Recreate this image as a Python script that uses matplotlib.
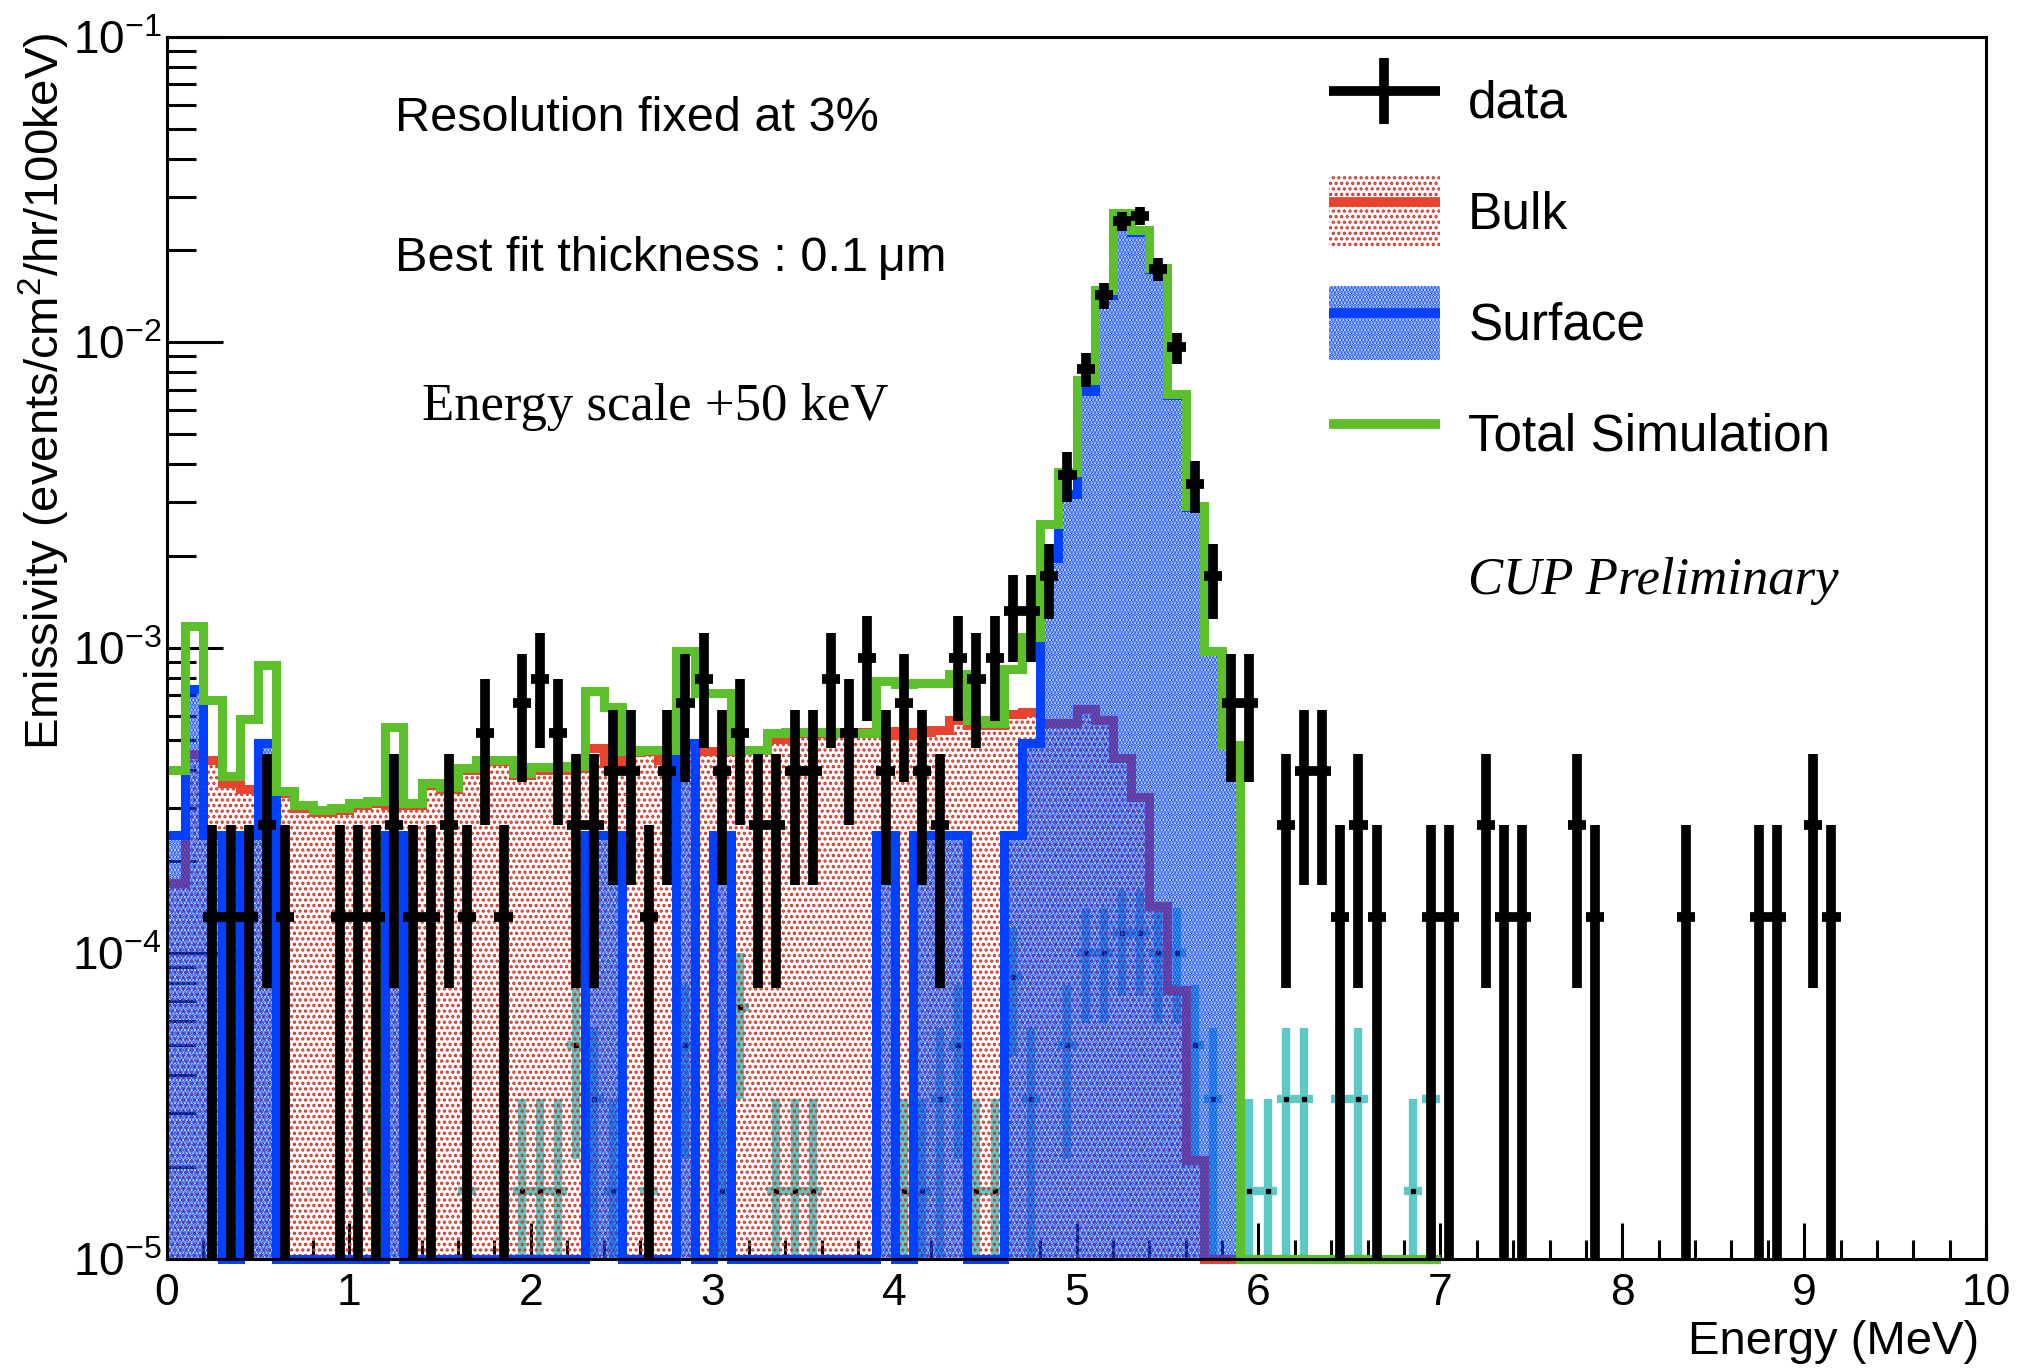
import numpy as np
import matplotlib
matplotlib.use('Agg')
import matplotlib.pyplot as plt
from matplotlib.patches import Patch
from matplotlib.lines import Line2D
from matplotlib.legend_handler import HandlerTuple
from matplotlib.ticker import LogLocator, MultipleLocator, NullFormatter

plt.rcParams['font.family'] = ['Liberation Sans', 'DejaVu Sans']
plt.rcParams['mathtext.fontset'] = 'custom'
plt.rcParams['mathtext.rm'] = 'Liberation Sans'
plt.rcParams['mathtext.it'] = 'Liberation Sans:italic'
plt.rcParams['mathtext.bf'] = 'Liberation Sans:bold'
plt.rcParams['hatch.linewidth'] = 1.6

RED = '#e8432e'
RED_DOT = '#c9382b'
BLUE = '#0040ff'
GREEN = '#5dbf2b'
CYAN = '#5cc8c8'
BULK_HATCH = '...'
SURF_HATCH = '.....'
BULK_HATCH_LW = 1.6
SURF_HATCH_LW = 2.0

# simulation histograms, 100 keV bins from 0 to 7 MeV
sim_edges = np.round(np.arange(0, 7.01, 0.1), 2)

bulk = [1.7e-4, 4.5e-4, 4.3e-4, 3.6e-4, 3.45e-4, 3.9e-4, 3.35e-4, 3.0e-4, 2.9e-4, 2.95e-4,
        3.05e-4, 3.1e-4, 3.05e-4, 3.05e-4, 3.55e-4, 3.45e-4, 4.0e-4, 4.25e-4, 4.25e-4, 3.85e-4,
        4.0e-4, 4.0e-4, 4.05e-4, 4.7e-4, 4.2e-4, 4.55e-4, 4.6e-4, 4.3e-4, 4.8e-4, 4.6e-4,
        4.6e-4, 4.65e-4, 4.65e-4, 5.05e-4, 5.25e-4, 5.25e-4, 5.25e-4, 5.25e-4, 5.3e-4, 5.35e-4,
        5.2e-4, 5.3e-4, 5.4e-4, 5.8e-4, 5.6e-4, 5.6e-4, 6.1e-4, 6.15e-4, 5.7e-4, 5.7e-4,
        6.3e-4, 5.8e-4, 4.35e-4, 3.25e-4, 1.43e-4, 7.6e-5, 2.1e-5, 0, 0, 0,
        0, 0, 0, 0, 0, 0, 0, 0, 0, 0]

surface = [2.45e-4, 7.35e-4, 2.45e-4, 0, 2.45e-4, 4.9e-4, 0, 0, 0, 0,
           0, 0, 2.45e-4, 0, 0, 0, 0, 0, 0, 0,
           0, 0, 0, 2.45e-4, 2.45e-4, 0, 0, 0, 4.9e-4, 0,
           2.45e-4, 0, 0, 0, 0, 0, 0, 0, 0, 2.45e-4,
           0, 2.45e-4, 2.45e-4, 2.45e-4, 0, 0, 2.45e-4, 4.9e-4, 1.97e-3, 3.19e-3,
           6.92e-3, 1.43e-2, 2.62e-2, 2.30e-2, 1.74e-2, 6.72e-3, 2.9e-3, 9.8e-4, 4.8e-4, 0,
           0, 0, 0, 0, 0, 0, 0, 0, 0, 0]

total = [4.0e-4, 1.18e-3, 6.75e-4, 3.8e-4, 5.85e-4, 8.8e-4, 3.4e-4, 3.05e-4, 2.95e-4, 3.0e-4,
         3.1e-4, 3.15e-4, 5.5e-4, 3.1e-4, 3.6e-4, 3.5e-4, 4.05e-4, 4.3e-4, 4.3e-4, 3.9e-4,
         4.07e-4, 4.07e-4, 4.1e-4, 7.25e-4, 6.4e-4, 4.6e-4, 4.65e-4, 4.65e-4, 9.8e-4, 7.1e-4,
         7.1e-4, 4.65e-4, 4.65e-4, 5.25e-4, 5.3e-4, 5.3e-4, 5.3e-4, 5.26e-4, 5.26e-4, 7.8e-4,
         7.6e-4, 7.7e-4, 7.7e-4, 8.2e-4, 5.8e-4, 5.7e-4, 8.55e-4, 1.09e-3, 2.54e-3, 3.76e-3,
         7.55e-3, 1.49e-2, 2.66e-2, 2.33e-2, 1.75e-2, 6.8e-3, 2.92e-3, 9.8e-4, 4.8e-4, 0,
         0, 0, 0, 0, 0, 0, 0, 0, 0, 0]

# measured spectrum: bin centres (MeV) and raw counts
data_energy = [0.25, 0.35, 0.45, 0.55, 0.65, 0.95, 1.05, 1.15, 1.25, 1.35,
               1.45, 1.55, 1.65, 1.75, 1.85, 1.95, 2.05, 2.15, 2.25, 2.35,
               2.45, 2.55, 2.65, 2.75, 2.85, 2.95, 3.05, 3.15, 3.25, 3.35,
               3.45, 3.55, 3.65, 3.75, 3.85, 3.95, 4.05, 4.15, 4.25, 4.35,
               4.45, 4.55, 4.65, 4.75, 4.85, 4.95, 5.05, 5.15, 5.25, 5.35,
               5.45, 5.55, 5.65, 5.75, 5.85, 5.95, 6.15, 6.25, 6.35, 6.45,
               6.55, 6.65, 6.95, 7.05, 7.25, 7.35, 7.45, 7.75, 7.85, 8.35,
               8.75, 8.85, 9.05, 9.15]
data_counts = [1, 1, 1, 2, 1, 1, 1, 1, 2, 1,
               1, 2, 1, 4, 1, 5, 6, 4, 2, 2,
               3, 3, 1, 3, 5, 6, 3, 4, 2, 2,
               3, 3, 6, 4, 7, 3, 5, 3, 2, 7,
               6, 7, 10, 10, 13, 28, 62, 108, 189, 197,
               132, 73, 26, 13, 5, 5, 2, 3, 3, 1,
               2, 1, 1, 1, 2, 1, 1, 2, 1, 1,
               1, 1, 2, 1]
data_rate_per_count = 1.32e-4

# second (cyan) sample
cyan_energy = [1.15, 1.65, 1.95, 2.05, 2.15, 2.25, 2.35, 2.45, 2.65, 2.85,
               3.05, 3.15, 3.35, 3.45, 3.55, 4.05, 4.15, 4.25, 4.35, 4.45,
               4.55, 4.65, 4.75, 4.95, 5.05, 5.15, 5.25, 5.35, 5.45, 5.55,
               5.65, 5.75, 5.95, 6.05, 6.15, 6.25, 6.45, 6.55, 6.85, 6.95]
cyan_counts = [1, 1, 1, 1, 1, 3, 2, 1, 1, 3,
               1, 4, 1, 1, 1, 1, 1, 2, 3, 1,
               1, 5, 2, 3, 6, 6, 7, 7, 6, 6,
               3, 2, 1, 1, 2, 2, 2, 2, 1, 2]
cyan_rate_per_count = 1.67e-5

bulk = np.array(bulk)
surface = np.array(surface)
total = np.array(total)
YMIN, YMAX = 1e-5, 1e-1

fig = plt.figure(figsize=(20.19, 13.69), dpi=100)
ax = fig.add_axes([0.0827, 0.0804, 0.901, 0.8926])
ax.set_yscale('log')
ax.set_xlim(0, 10)
ax.set_ylim(YMIN, YMAX)
ax.set_axisbelow(True)


def hatch_lw(artist, lw):
    # per-artist hatch width where the installed matplotlib supports it
    if hasattr(artist, 'set_hatch_linewidth'):
        artist.set_hatch_linewidth(lw)
    return artist


def points(ax, energy, counts, scale, color, lw, z):
    energy = np.array(energy)
    counts = np.array(counts, dtype=float)
    rate = counts * scale
    err = np.sqrt(counts) * scale
    lo = np.minimum(err, rate - 1e-9)  # keep lower end positive on the log axis
    eb = ax.errorbar(energy, rate, yerr=[lo, err], xerr=0.05, fmt='none',
                     ecolor=color, elinewidth=lw, capsize=0, zorder=z)
    for lc in eb[2]:
        lc.set_capstyle('butt')
    return rate


def outline(ax, vals, color, z):
    s = ax.stairs(np.where(vals > 0, vals, YMIN), sim_edges, baseline=None,
                  color=color, lw=6.5, zorder=z, clip_on=False)
    s.set_joinstyle('miter')


# cyan sample sits underneath the hatched histograms
crate = points(ax, cyan_energy, cyan_counts, cyan_rate_per_count, CYAN, 6, 1)
ax.plot(cyan_energy, crate, ls='none', marker='s', ms=2.2, color='black', zorder=1.1)

# bulk component
plt.rcParams['hatch.linewidth'] = BULK_HATCH_LW
hatch_lw(ax.stairs(np.maximum(bulk, 1e-7), sim_edges, baseline=1e-7, fill=True,
                   facecolor='none', edgecolor=RED_DOT, hatch=BULK_HATCH, linewidth=0,
                   zorder=2), BULK_HATCH_LW)
outline(ax, bulk, RED, 3)

# surface component
plt.rcParams['hatch.linewidth'] = SURF_HATCH_LW
hatch_lw(ax.stairs(np.maximum(surface, 1e-7), sim_edges, baseline=1e-7, fill=True,
                   facecolor='none', edgecolor=BLUE, hatch=SURF_HATCH, linewidth=0,
                   zorder=4), SURF_HATCH_LW)
outline(ax, surface, BLUE, 5)

# total simulation
outline(ax, total, GREEN, 6)

# measured data on top
points(ax, data_energy, data_counts, data_rate_per_count, 'black', 7, 7)

# axes styling
for sp in ax.spines.values():
    sp.set_linewidth(2.2)
    sp.set_zorder(8)
ax.xaxis.set_major_locator(MultipleLocator(1))
ax.xaxis.set_minor_locator(MultipleLocator(0.2))
ax.yaxis.set_major_locator(LogLocator(base=10, numticks=10))
ax.yaxis.set_minor_locator(LogLocator(base=10, subs=np.arange(2, 10), numticks=20))
ax.yaxis.set_minor_formatter(NullFormatter())
ax.tick_params(which='both', direction='in', top=False, right=False, width=2.2)
ax.tick_params(axis='x', which='major', length=26, labelsize=32, pad=10)
ax.tick_params(axis='x', which='minor', length=14)
ax.tick_params(axis='y', which='major', length=40, labelsize=33, pad=4)
ax.tick_params(axis='y', which='minor', length=21)

fig.text(0.0218, 0.9766, 'Emissivity (events/cm$^{2}$/hr/100keV)', rotation=90,
         ha='center', va='top', fontsize=34)
fig.text(0.9802, 0.0197, 'Energy (MeV)', ha='right', va='center', fontsize=34)

fig.text(0.1956, 0.9138, 'Resolution fixed at 3%', ha='left', va='center', fontsize=35)
fig.text(0.1956, 0.8115, 'Best fit thickness : 0.1\u2009\u03bcm', ha='left', va='center',
         fontsize=35)
fig.text(0.209, 0.7027, 'Energy scale +50 keV', ha='left', va='center', fontsize=38,
         family=['Liberation Serif', 'DejaVu Serif'])
fig.text(0.7271, 0.5756, 'CUP Preliminary', ha='left', va='center', fontsize=38,
         style='italic', family=['Liberation Serif', 'DejaVu Serif'])

# legend: patch and line overlaid in the same handle box
h_data = (Line2D([], [], color='black', lw=7, solid_capstyle='butt'),
          Line2D([], [], color='black', marker='|', ms=48, mew=7, ls='none'))
h_bulk = (hatch_lw(Patch(facecolor='none', edgecolor=RED_DOT, hatch=BULK_HATCH, lw=0),
                   BULK_HATCH_LW),
          Line2D([], [], color=RED, lw=7, solid_capstyle='butt'))
h_surf = (hatch_lw(Patch(facecolor='none', edgecolor=BLUE, hatch=SURF_HATCH, lw=0),
                   SURF_HATCH_LW),
          Line2D([], [], color=BLUE, lw=7, solid_capstyle='butt'))
h_tot = Line2D([], [], color=GREEN, lw=7, solid_capstyle='butt')
leg = fig.legend([h_data, h_bulk, h_surf, h_tot], ['data', 'Bulk', 'Surface', 'Total Simulation'],
                 handler_map={tuple: HandlerTuple(ndivide=1, pad=0)},
                 loc='upper left', bbox_to_anchor=(0.6582, 0.953), bbox_transform=fig.transFigure,
                 frameon=False, fontsize=37, handlelength=2.16, handleheight=1.81,
                 labelspacing=0.74, handletextpad=0.55, borderpad=0, borderaxespad=0)
for hdl, lw in zip(leg.legend_handles, [None, BULK_HATCH_LW, SURF_HATCH_LW, None]):
    if lw is not None and isinstance(hdl, Patch):
        hatch_lw(hdl, lw)

fig.savefig('out.png', dpi=100)
